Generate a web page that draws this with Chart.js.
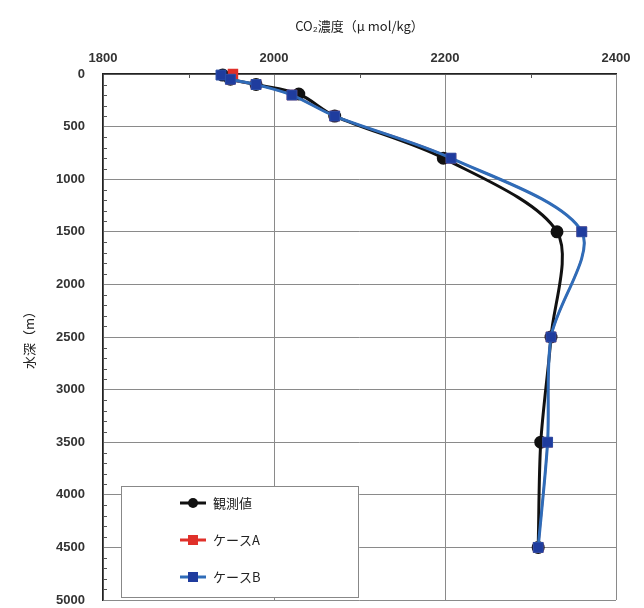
<!DOCTYPE html>
<html>
<head>
<meta charset="utf-8">
<script src="https://cdn.jsdelivr.net/npm/chart.js@4/dist/chart.umd.min.js"></script>
<style>
	html, body { margin: 0; padding: 0; background: #fff; }
	#wrap { width: 644px; height: 608px; }
</style>
</head>
<body>
<div id="wrap"><canvas id="co2Chart" width="644" height="608"></canvas></div>
<script>
// depth (m) and CO2 (umol/kg)
const obsDepth = [10, 50, 100, 190, 400, 800, 1500, 2500, 3500, 4500];
const obsCO2 = [1940, 1949, 1979, 2029, 2071, 2198, 2331, 2324, 2312, 2309];

const caseADepth = [0, 50, 100, 200, 400, 800, 1500, 2500, 3500, 4500];
const caseACO2 = [1952, 1949, 1979, 2021, 2071, 2207, 2360, 2324, 2320, 2309];

const caseBDepth = [10, 50, 100, 200, 400, 800, 1500, 2500, 3500, 4500];
const caseBCO2 = [1938, 1949, 1979, 2021, 2071, 2207, 2360, 2324, 2320, 2309];

const xTicks = [1800, 2000, 2200, 2400];
const yTicks = [0, 500, 1000, 1500, 2000, 2500, 3000, 3500, 4000, 4500, 5000];

const seriesLabels = ['観測値', 'ケースA', 'ケースB'];

const black = '#111';
const red = '#e0302a';
const blueLine = '#2f6cb8';
const blueMark = '#1f3c9e';
const gridColor = '#8a8a8a';
const tickColor = '#333';

function toPoints(xs, ys) {
	let pts = [];
	for(let i = 0; i < xs.length; i++) {
		pts.push({x: xs[i], y: ys[i]});
	}
	return pts;
}

// small minor ticks every 100 on the left and top axes
const minorTicks = {
	id: 'minorTicks',
	afterDatasetsDraw(chart) {
		const ctx = chart.ctx;
		const xs = chart.scales.x;
		const ys = chart.scales.y;
		const area = chart.chartArea;
		ctx.save();
		ctx.strokeStyle = '#555';
		ctx.lineWidth = 1;
		ctx.beginPath();
		for(let v = 100; v < 5000; v += 100) {
			if(v % 500 === 0) continue;
			const py = Math.round(ys.getPixelForValue(v)) + 0.5;
			ctx.moveTo(area.left, py);
			ctx.lineTo(area.left + 4, py);
		}
		for(let v = 1900; v < 2400; v += 200) {
			const px = Math.round(xs.getPixelForValue(v)) + 0.5;
			ctx.moveTo(px, area.top);
			ctx.lineTo(px, area.top + 4);
		}
		ctx.stroke();
		ctx.restore();
	}
};

// legend box sitting inside the plot, lower left
const boxLegend = {
	id: 'boxLegend',
	afterDraw(chart) {
		const ctx = chart.ctx;
		const left = 121, top = 486, w = 237, h = 111;
		ctx.save();
		ctx.fillStyle = '#fff';
		ctx.fillRect(left, top, w, h);
		ctx.strokeStyle = '#888';
		ctx.lineWidth = 1;
		ctx.strokeRect(left + 0.5, top + 0.5, w, h);

		const rows = [503, 540, 577];
		chart.data.datasets.forEach(function(ds, i) {
			const y = rows[i];
			ctx.strokeStyle = ds.borderColor;
			ctx.lineWidth = 3;
			ctx.beginPath();
			ctx.moveTo(180, y);
			ctx.lineTo(206, y);
			ctx.stroke();
			ctx.fillStyle = ds.pointBackgroundColor;
			if(ds.pointStyle === 'circle') {
				ctx.beginPath();
				ctx.arc(193, y, 5, 0, Math.PI * 2);
				ctx.fill();
			} else {
				ctx.fillRect(188, y - 5, 10, 10);
			}
			ctx.fillStyle = '#222';
			ctx.font = '13px "Noto Sans CJK JP", sans-serif';
			ctx.textBaseline = 'middle';
			ctx.fillText(ds.label, 213, y);
		});
		ctx.restore();
	}
};

const config = {
	type: 'scatter',
	data: {
		datasets: [
			{
				label: seriesLabels[0],
				data: toPoints(obsCO2, obsDepth),
				showLine: true,
				tension: 0.3,
				borderColor: black,
				borderWidth: 3,
				pointStyle: 'circle',
				pointRadius: 5,
				pointBackgroundColor: black,
				pointBorderColor: black,
				order: 3,
				clip: false,
			},
			{
				label: seriesLabels[1],
				data: toPoints(caseACO2, caseADepth),
				showLine: true,
				tension: 0.3,
				borderColor: red,
				borderWidth: 2,
				pointStyle: 'rect',
				pointRadius: 6,
				pointBackgroundColor: red,
				pointBorderColor: red,
				order: 2,
				clip: false,
			},
			{
				label: seriesLabels[2],
				data: toPoints(caseBCO2, caseBDepth),
				showLine: true,
				tension: 0.3,
				borderColor: blueLine,
				borderWidth: 3,
				pointStyle: 'rect',
				pointRadius: 7,
				pointBackgroundColor: blueMark,
				pointBorderColor: '#2a4fa8',
				pointBorderWidth: 1,
				order: 1,
				clip: false,
			}
		],
	},
	options: {
		responsive: false,
		animation: false,
		layout: {
			padding: { left: 0, right: 28, top: 0, bottom: 8 },
		},
		plugins: {
			legend: { display: false },
			tooltip: { enabled: false },
		},
		scales: {
			x: {
				type: 'linear',
				position: 'top',
				min: 1800,
				max: 2400,
				afterBuildTicks: function(scale) {
					scale.ticks = xTicks.map(v => ({value: v}));
				},
				afterFit: function(scale) {
					scale.height = 74;
					scale.paddingLeft = 0;
					scale.paddingRight = 0;
				},
				ticks: {
					color: tickColor,
					padding: 8,
					callback: v => String(v),
					font: { family: '"Liberation Sans", Arial, sans-serif', size: 13, weight: 'bold' },
				},
				grid: {
					color: gridColor,
					drawTicks: false,
				},
				border: { color: '#222', width: 1.5 },
				title: {
					display: true,
					text: 'CO₂濃度（μ mol/kg）',
					color: '#222',
					padding: { top: 18 },
					font: { family: '"Noto Sans CJK JP", sans-serif', size: 13 },
				},
			},
			y: {
				type: 'linear',
				reverse: true,
				min: 0,
				max: 5000,
				afterBuildTicks: function(scale) {
					scale.ticks = yTicks.map(v => ({value: v}));
				},
				afterFit: function(scale) {
					scale.width = 103;
					scale.paddingTop = 0;
					scale.paddingBottom = 0;
				},
				ticks: {
					color: tickColor,
					padding: 18,
					callback: v => String(v),
					font: { family: '"Liberation Sans", Arial, sans-serif', size: 13, weight: 'bold' },
				},
				grid: {
					color: gridColor,
					drawTicks: false,
				},
				border: { color: '#222', width: 1.5 },
				title: {
					display: true,
					text: '水深（m）',
					color: '#222',
					padding: { top: 21 },
					font: { family: '"Noto Sans CJK JP", sans-serif', size: 13 },
				},
			},
		},
	},
	plugins: [minorTicks, boxLegend],
};

const co2Chart = new Chart(document.getElementById('co2Chart').getContext('2d'), config);
</script>
</body>
</html>
